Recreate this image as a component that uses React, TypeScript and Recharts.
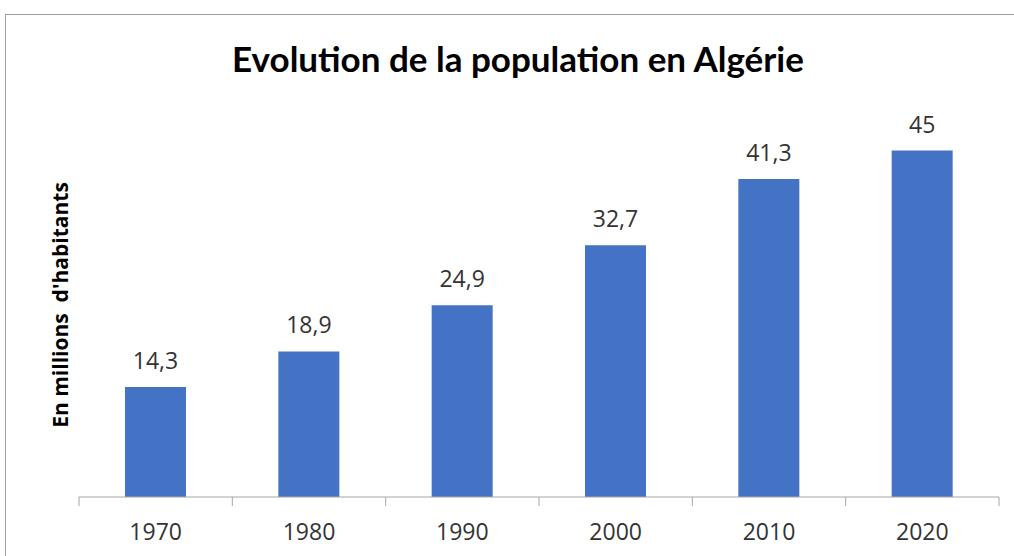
import React from 'react';
import { BarChart, Bar, XAxis, YAxis, LabelList, Customized } from 'recharts';

const years = ['1970', '1980', '1990', '2000', '2010', '2020'];
const population = [14.3, 18.9, 24.9, 32.7, 41.3, 45];

const data = years.map((year, i) => ({ year, population: population[i] }));

const WIDTH = 1014;
const HEIGHT = 556;
const MARGIN = { top: 112, right: 15, left: 79, bottom: 0 };
const BAND = (WIDTH - MARGIN.left - MARGIN.right) / years.length;
const BLUE = '#4472C4';
const AXIS = '#A6A6A6';
const TEXT = '#333333';

function YearTick(props: any) {
  const { x, y, payload, index } = props;
  const left = x - BAND / 2;
  const right = x + BAND / 2;
  return (
    <g>
      <line x1={left} x2={left} y1={y} y2={y + 9} stroke={AXIS} strokeWidth={1} />
      {index === years.length - 1 && (
        <line x1={right} x2={right} y1={y} y2={y + 9} stroke={AXIS} strokeWidth={1} />
      )}
      <text x={x} y={y + 43} textAnchor="middle" fill={TEXT} fontSize={23} fontFamily="Open Sans">
        {payload.value}
      </text>
    </g>
  );
}

function Titles() {
  return (
    <g>
      <text x={518} y={72} textAnchor="middle" fill="#000" fontSize={35} fontWeight="bold" fontFamily="Lato">
        Evolution de la population en Algérie
      </text>
      <text
        x={68}
        y={305}
        textAnchor="middle"
        fill="#000"
        fontSize={21}
        fontWeight="bold"
        fontFamily="Open Sans"
        transform="rotate(-90, 68, 305)"
        style={{ whiteSpace: 'pre' }}
      >
        {'En millions  d\'habitants'}
      </text>
    </g>
  );
}

export default function App() {
  return (
    <div style={{ position: 'absolute', left: 0, top: 0, width: WIDTH, height: HEIGHT, overflow: 'hidden', background: '#fff' }}>
      <div
        style={{
          position: 'absolute',
          left: 5,
          top: 14,
          width: WIDTH + 20,
          height: HEIGHT + 20,
          border: '1px solid #A0A0A0',
        }}
      />
      <div style={{ position: 'absolute', left: 0, top: 0 }}>
        <BarChart width={WIDTH} height={HEIGHT} data={data} margin={MARGIN}>
          <XAxis
            dataKey="year"
            height={59}
            axisLine={{ stroke: AXIS }}
            tickLine={false}
            tickSize={0}
            tickMargin={0}
            tick={<YearTick />}
            interval={0}
          />
          <YAxis hide domain={[0, 50]} />
          <Bar dataKey="population" fill={BLUE} barSize={61} isAnimationActive={false}>
            <LabelList
              dataKey="population"
              position="top"
              offset={18}
              fill={TEXT}
              fontSize={23}
              fontFamily="Open Sans"
              formatter={(v: any) => String(v).replace('.', ',')}
            />
          </Bar>
          <Customized component={Titles} />
        </BarChart>
      </div>
    </div>
  );
}
